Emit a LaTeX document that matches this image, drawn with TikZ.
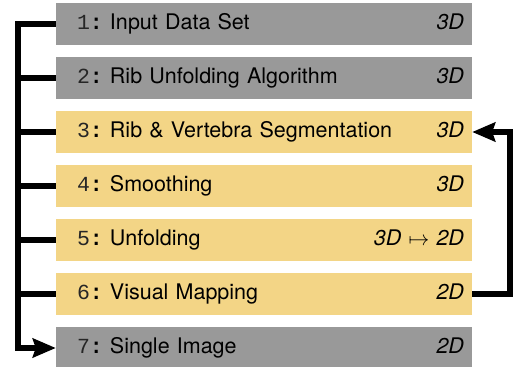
\documentclass[tikz,border=0pt]{standalone}
\usepackage{fontspec}
\setmainfont{TeX Gyre Heros}
\setmonofont{Liberation Mono}
\usetikzlibrary{arrows.meta}

\definecolor{stagegray}{RGB}{153,153,153}
\definecolor{stageyellow}{RGB}{243,213,134}

\newcommand{\stageno}[1]{{\ttfamily\textcolor{black!85}{#1}\textbf{:}}\ }

\begin{document}
\begin{tikzpicture}[
    x=1pt, y=-1pt,
    every node/.style={font=\fontsize{21.5}{25}\selectfont},
    stage/.style={rectangle, inner xsep=8pt, inner ysep=0pt, text width=400pt, minimum height=42pt, align=left},
    graystage/.style={stage, fill=stagegray},
    yellowstage/.style={stage, fill=stageyellow},
    branch/.style={line width=5.5pt},
    flow/.style={branch, -{Stealth[length=23pt, width=19pt, inset=3pt]}}
]
\useasboundingbox (0,0) rectangle (515,367);

% Pipeline stages
\node[graystage] (input) at (264,24) {\hspace*{13pt}\stageno{1}Input Data Set\hfill\textit{3D}};
\node[graystage] (algo) at (264,78) {\hspace*{13pt}\stageno{2}Rib Unfolding Algorithm\hfill\textit{3D}};
\node[yellowstage] (segment) at (264,132) {\hspace*{13pt}\stageno{3}Rib \& Vertebra Segmentation\hfill\textit{3D}};
\node[yellowstage] (smooth) at (264,186) {\hspace*{13pt}\stageno{4}Smoothing\hfill\textit{3D}};
\node[yellowstage] (unfold) at (264,240) {\hspace*{13pt}\stageno{5}Unfolding\hfill\textit{3D}~$\mapsto$~\textit{2D}};
\node[yellowstage] (mapping) at (264,294) {\hspace*{13pt}\stageno{6}Visual Mapping\hfill\textit{2D}};
\node[graystage] (image) at (264,348) {\hspace*{13pt}\stageno{7}Single Image\hfill\textit{2D}};

% Left bus
\draw[flow] (input.west) -- ++(-38,0) |- (image.west);
\draw[branch] (algo.west) -- ++(-38,0);
\draw[branch] (segment.west) -- ++(-38,0);
\draw[branch] (smooth.west) -- ++(-38,0);
\draw[branch] (unfold.west) -- ++(-38,0);
\draw[branch] (mapping.west) -- ++(-38,0);

% Feedback loop
\draw[flow] (mapping.east) -- ++(38,0) |- (segment.east);

\end{tikzpicture}
\end{document}
